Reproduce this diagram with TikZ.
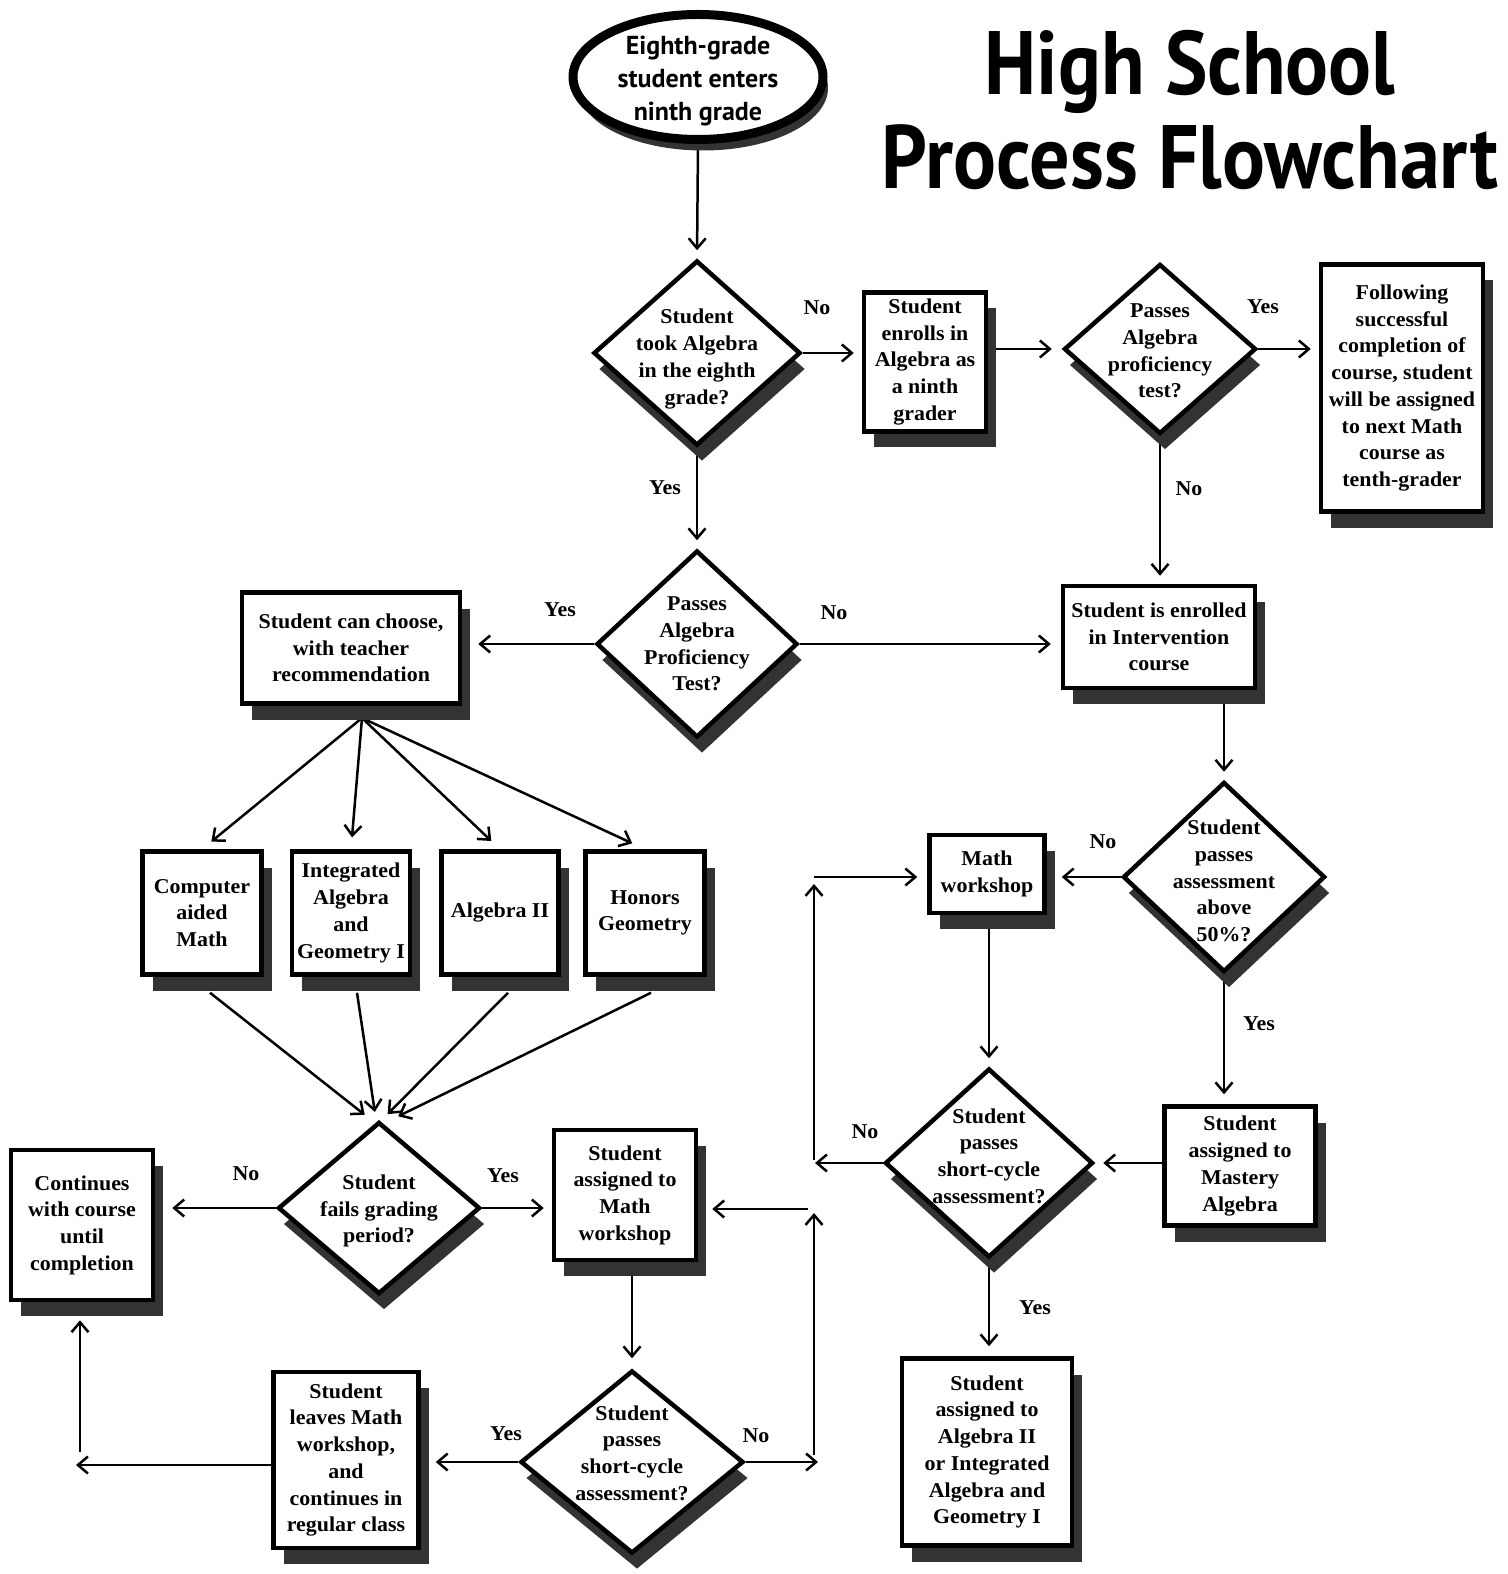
\documentclass[tikz,border=0pt]{standalone}
\usepackage{fontspec}
\newfontfamily\headfont[FakeStretch=0.89]{PT Sans}
\newfontfamily\startfont{PT Sans}
\newfontfamily\bodyfont[FakeStretch=1.04]{Liberation Serif}
\usetikzlibrary{shapes.geometric,shadows,arrows.meta,backgrounds}

\tikzset{
  txt/.style={font=\bodyfont\bfseries\fontsize{6pt}{7.6pt}\selectfont, align=center, inner sep=0pt},
  box/.style={txt, draw, line width=0.045cm, fill=white, rectangle,
    drop shadow={shadow xshift=0.1cm, shadow yshift=-0.16cm, opacity=1, fill=black!80}},
  dia/.style={draw, line width=0.045cm, fill=white, diamond, inner sep=0pt,
    drop shadow={shadow xshift=0.05cm, shadow yshift=-0.16cm, opacity=1, fill=black!80}},
  flow/.style={line width=0.025cm, shorten >=0.08cm,
    -{Straight Barb[length=0.1cm, width=0.17cm, line width=0.025cm]}}
}

\begin{document}
\begin{tikzpicture}[x=1cm, y=-1cm]
\useasboundingbox (0,0) rectangle (15.07,15.74);

% title and start
\node[font=\headfont\bfseries\fontsize{25.6pt}{26.5pt}\selectfont, align=center, inner sep=0pt] (title) at (11.90,1.10) {High School\\Process Flowchart};
\node[draw, ellipse, line width=0.09cm, fill=white, minimum width=2.50cm, minimum height=1.25cm,
  drop shadow={shadow xshift=0.05cm, shadow yshift=-0.11cm, opacity=1, fill=black!80}] (start) at (6.98,0.77) {};
\node[font=\startfont\bfseries\fontsize{7.4pt}{9.5pt}\selectfont, align=center, inner sep=0pt] (startt) at (6.98,0.81) {Eighth-grade\\student enters\\ninth grade};

% top row
\node[dia, minimum width=2.07cm, minimum height=1.85cm] (d1) at (6.97,3.53) {};
\node[txt] (d1t) at (6.97,3.59) {Student\\took Algebra\\in the eighth\\grade?};
\node[box, minimum width=1.22cm, minimum height=1.39cm] (b1) at (9.25,3.62) {Student\\enrolls in\\Algebra as\\a ninth\\grader};
\node[dia, minimum width=1.92cm, minimum height=1.70cm] (d2) at (11.60,3.49) {};
\node[txt] (d2t) at (11.60,3.51) {Passes\\Algebra\\proficiency\\test?};
\node[box, minimum width=1.62cm, minimum height=2.47cm] (fol) at (14.02,3.88) {Following\\successful\\completion of\\course, student\\will be assigned\\to next Math\\course as\\tenth-grader};

% second row
\node[dia, minimum width=2.01cm, minimum height=1.87cm] (d3) at (6.97,6.44) {};
\node[txt] (d3t) at (6.97,6.44) {Passes\\Algebra\\Proficiency\\Test?};
\node[box, minimum width=2.18cm, minimum height=1.11cm] (choose) at (3.51,6.48) {Student can choose,\\with teacher\\recommendation};
\node[box, minimum width=1.92cm, minimum height=1.02cm] (b3) at (11.59,6.37) {Student is enrolled\\in Intervention\\course};

% course choices
\node[box, minimum width=1.19cm, minimum height=1.23cm] (cam) at (2.02,9.13) {Computer\\aided\\Math};
\node[box, minimum width=1.18cm, minimum height=1.23cm] (iag) at (3.51,9.13) {Integrated\\Algebra\\and\\Geometry I};
\node[box, minimum width=1.17cm, minimum height=1.23cm] (alg2) at (5.00,9.13) {Algebra II};
\node[box, minimum width=1.19cm, minimum height=1.23cm] (hon) at (6.45,9.13) {Honors\\Geometry};

% grading period loop
\node[dia, minimum width=2.02cm, minimum height=1.72cm] (d4) at (3.79,12.08) {};
\node[txt] (d4t) at (3.79,12.11) {Student\\fails grading\\period?};
\node[box, minimum width=1.42cm, minimum height=1.50cm] (cont) at (0.82,12.25) {Continues\\with course\\until\\completion};
\node[box, minimum width=1.42cm, minimum height=1.30cm] (mw1) at (6.25,11.95) {Student\\assigned to\\Math\\workshop};
\node[dia, minimum width=2.23cm, minimum height=1.83cm] (d5) at (6.32,14.62) {};
\node[txt] (d5t) at (6.32,14.53) {Student\\passes\\short-cycle\\assessment?};
\node[box, minimum width=1.45cm, minimum height=1.76cm] (leave) at (3.46,14.60) {Student\\leaves Math\\workshop,\\and\\continues in\\regular class};

% intervention loop
\node[dia, minimum width=2.02cm, minimum height=1.90cm] (d6) at (12.24,8.77) {};
\node[txt] (d6t) at (12.24,8.81) {Student\\passes\\assessment\\above\\50\%?};
\node[box, minimum width=1.15cm, minimum height=0.78cm] (mw2) at (9.87,8.74) {Math\\workshop};
\node[dia, minimum width=2.08cm, minimum height=1.89cm] (d7) at (9.89,11.63) {};
\node[txt] (d7t) at (9.89,11.56) {Student\\passes\\short-cycle\\assessment?};
\node[box, minimum width=1.51cm, minimum height=1.19cm] (mast) at (12.40,11.66) {Student\\assigned to\\Mastery\\Algebra};
\node[box, minimum width=1.70cm, minimum height=1.87cm] (fin) at (9.87,14.52) {Student\\assigned to\\Algebra II\\or Integrated\\Algebra and\\Geometry I};

% loose ends of the loops
\coordinate (loopA) at (8.18,14.62);
\coordinate (upA0) at (8.14,14.55);
\coordinate (upA1) at (8.14,12.13);
\coordinate (backA) at (8.08,12.09);
\coordinate (loopB) at (8.15,11.63);
\coordinate (upB0) at (8.14,11.60);
\coordinate (upB1) at (8.14,8.84);
\coordinate (backB) at (8.14,8.77);
\coordinate (loopC) at (0.76,14.65);
\coordinate (upC) at (0.80,14.52);
\coordinate (fan) at (3.62,7.18);

% connectors
\begin{scope}[on background layer]
\draw[flow] (start.south) -- (d1.north);
\draw[flow] (d1.east) -- (d1.east -| b1.west);
\draw[flow, shorten >=0.1cm] (b1.east |- d2.west) -- (d2.west);
\draw[flow] (d2.east) -- (d2.east -| fol.west);
\draw[flow] (d2.south) -- (d2.south |- b3.north);
\draw[flow] (d1.south) -- (d3.north);
\draw[flow, shorten >=0.16cm] (d3.west) -- (d3.west -| choose.east);
\draw[flow, shorten >=0.1cm] (d3.east) -- (d3.east -| b3.west);
\draw[flow] (b3.south -| d6.north) -- (d6.north);
\draw[flow, shorten >=0.12cm] (fan) -- (cam.north);
\draw[flow, shorten >=0.12cm] (fan) -- (iag.north);
\draw[flow, shorten >=0.12cm] (fan) -- (alg2.north);
\draw[flow, shorten >=0.14cm] (fan) -- (hon.north);
\draw[flow] ([xshift=0.08cm, yshift=-0.16cm]cam.south) -- ([xshift=-0.08cm]d4.north);
\draw[flow] ([xshift=0.06cm, yshift=-0.16cm]iag.south) -- ([xshift=-0.03cm]d4.north);
\draw[flow] ([xshift=0.08cm, yshift=-0.16cm]alg2.south) -- ([xshift=0.03cm]d4.north);
\draw[flow] ([xshift=0.06cm, yshift=-0.16cm]hon.south) -- ([xshift=0.12cm]d4.north);
\draw[flow, shorten >=0.17cm] (d4.west) -- (d4.west -| cont.east);
\draw[flow] (d4.east) -- (d4.east -| mw1.west);
\draw[flow, shorten >=0.1cm] (mw1.south -| d5.north) -- (d5.north);
\draw[flow, shorten >=0.15cm] (d5.west) -- (d5.west -| leave.east);
\draw[flow, shorten >=0pt] (d5.east) -- (loopA);
\draw[flow, shorten >=0pt] (upA0) -- (upA1);
\draw[flow, shorten >=0.14cm] (backA) -- (backA -| mw1.east);
\draw[flow, shorten >=0.15cm] (d6.west) -- (d6.west -| mw2.east);
\draw[flow] (mw2.south -| d7.north) -- (d7.north);
\draw[flow, shorten >=0.1cm] (d6.south) -- (d6.south |- mast.north);
\draw[flow] (mast.west |- d7.east) -- (d7.east);
\draw[flow, shorten >=0.1cm] (d7.south) -- (d7.south |- fin.north);
\draw[flow, shorten >=0pt] (d7.west) -- (loopB);
\draw[flow, shorten >=0pt] (upB0) -- (upB1);
\draw[flow, shorten >=0.1cm] (backB) -- (backB -| mw2.west);
\draw[flow, shorten >=0pt] (leave.west |- loopC) -- (loopC);
\draw[flow, shorten >=0.18cm] (upC) -- (upC |- cont.south);
\end{scope}

% answers
\node[txt] (n1) at (8.17,3.08) {No};
\node[txt] (y1) at (6.65,4.88) {Yes};
\node[txt] (y2) at (12.63,3.07) {Yes};
\node[txt] (n2) at (11.89,4.89) {No};
\node[txt] (y3) at (5.60,6.10) {Yes};
\node[txt] (n3) at (8.34,6.13) {No};
\node[txt] (n4) at (11.03,8.42) {No};
\node[txt] (y4) at (12.59,10.24) {Yes};
\node[txt] (n5) at (8.65,11.32) {No};
\node[txt] (y5) at (10.35,13.08) {Yes};
\node[txt] (n6) at (2.46,11.74) {No};
\node[txt] (y6) at (5.03,11.76) {Yes};
\node[txt] (y7) at (5.06,14.34) {Yes};
\node[txt] (n7) at (7.56,14.36) {No};
\end{tikzpicture}
\end{document}
